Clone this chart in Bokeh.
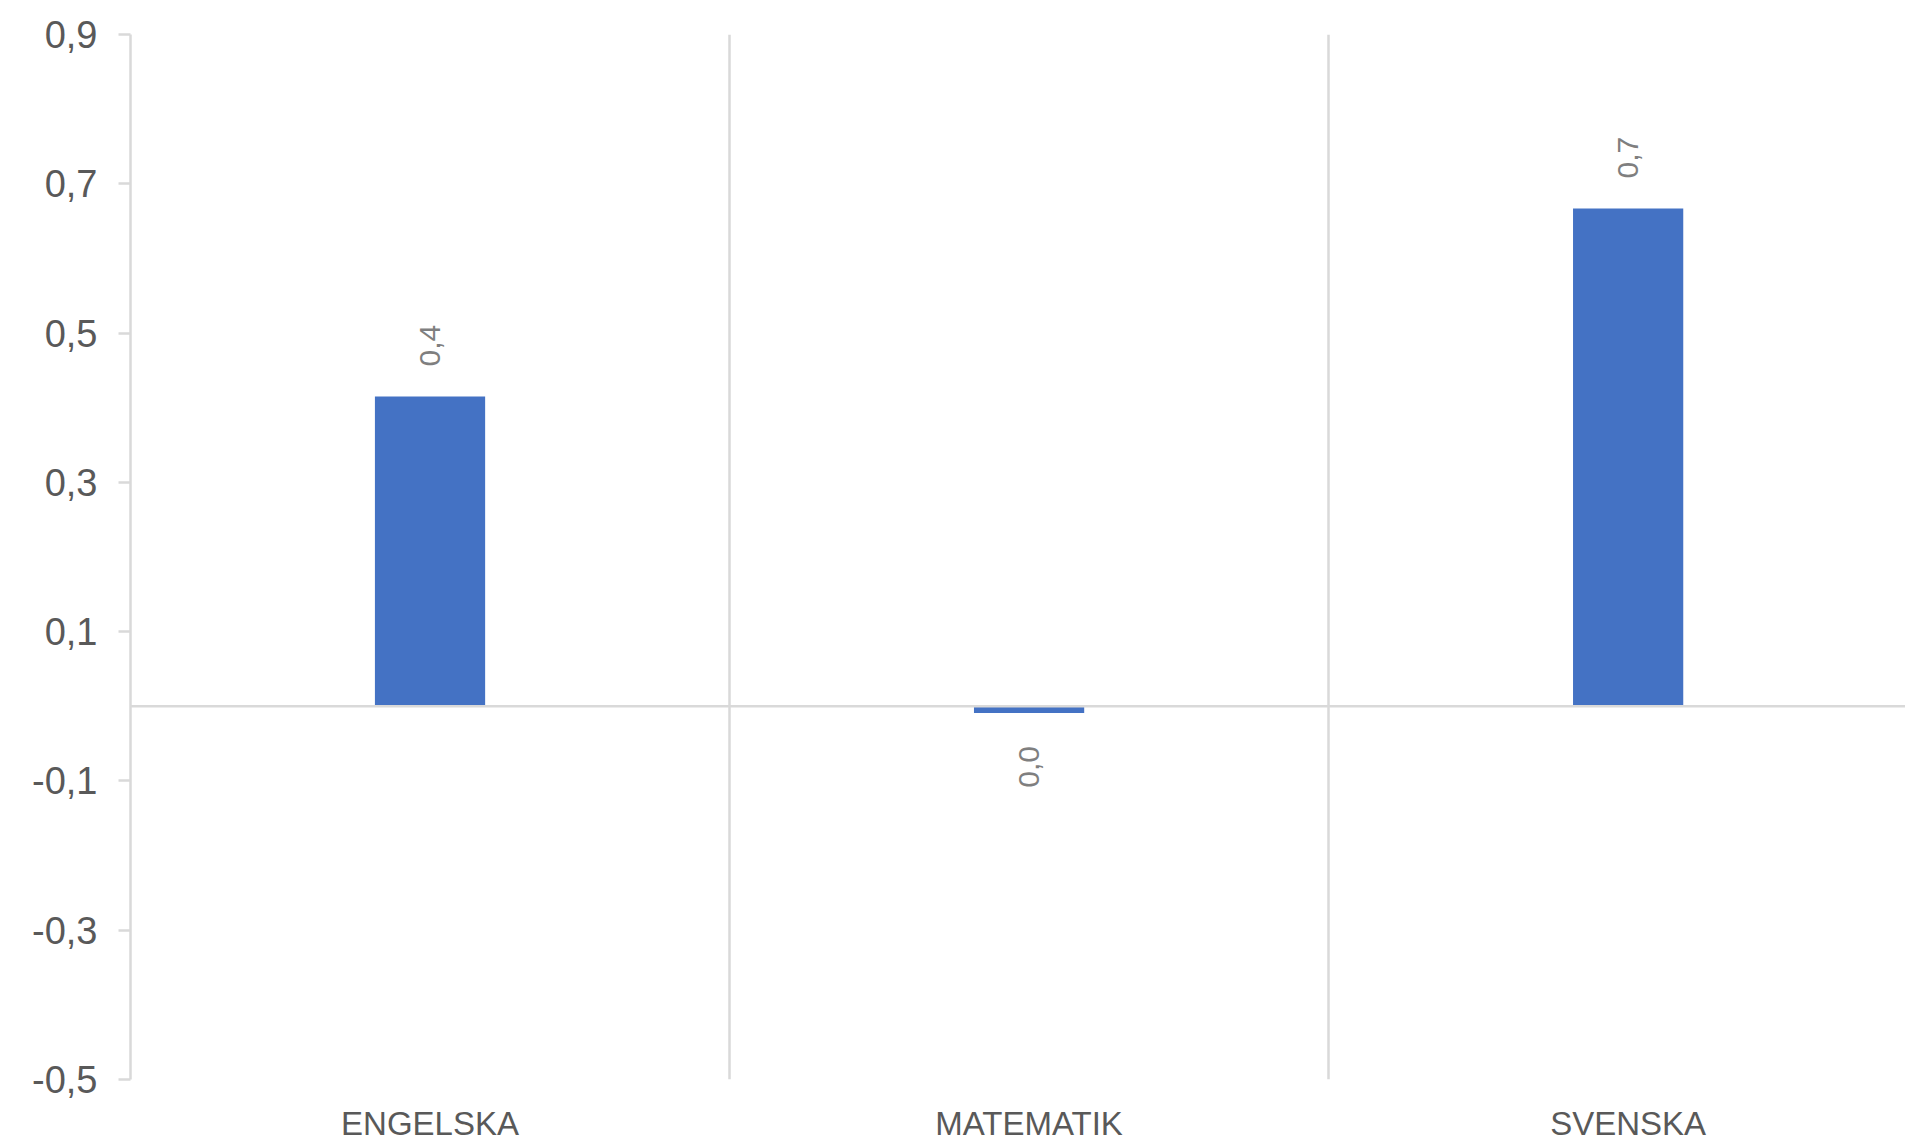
import math
from bokeh.plotting import figure
from bokeh.models import ColumnDataSource, Range1d, FixedTicker, Span
from bokeh.core.properties import value
from bokeh.embed import file_html
from bokeh.resources import INLINE

# ---- data ----
categories = ["ENGELSKA", "MATEMATIK", "SVENSKA"]
values = [0.415, -0.009, 0.667]
value_labels = ["0,4", "0,0", "0,7"]
y_ticks = [-0.5, -0.3, -0.1, 0.1, 0.3, 0.5, 0.7, 0.9]
y_tick_labels = ["-0,5", "-0,3", "-0,1", "0,1", "0,3", "0,5", "0,7", "0,9"]

GRID = "#d9d9d9"
TEXT = "#595959"
LABEL = "#7f7f7f"
BAR = "#4472C4"
FONT = "Liberation Sans"

xpos = [i + 0.5 for i in range(len(categories))]
pos_idx = [i for i, v in enumerate(values) if v >= 0]
neg_idx = [i for i, v in enumerate(values) if v < 0]

src = ColumnDataSource(dict(x=xpos, top=values, lab=value_labels))
src_pos = ColumnDataSource(dict(x=[xpos[i] for i in pos_idx],
                                y=[values[i] for i in pos_idx],
                                lab=[value_labels[i] for i in pos_idx]))
src_neg = ColumnDataSource(dict(x=[xpos[i] for i in neg_idx],
                                y=[values[i] for i in neg_idx],
                                lab=[value_labels[i] for i in neg_idx]))

p = figure(width=1905, height=1144, output_backend="svg", toolbar_location=None,
           x_range=Range1d(0, 2.963), y_range=Range1d(-0.5, 0.9))
p.min_border_left = 130
p.min_border_right = 0
p.min_border_top = 34
p.min_border_bottom = 64
p.outline_line_color = None
p.background_fill_color = "white"
p.border_fill_color = "white"

# grids
p.ygrid.grid_line_color = None
p.xgrid.ticker = FixedTicker(ticks=[1, 2])
p.xgrid.grid_line_color = GRID
p.xgrid.grid_line_width = 2.5

p.add_layout(Span(location=0, dimension="width", line_color=GRID, line_width=2.5))

# bars
p.vbar(x="x", top="top", bottom=0, width=0.184, source=src, fill_color=BAR, line_color=None)

# data labels (rotated)
p.text(x="x", y="y", text="lab", source=src_pos, angle=math.pi / 2,
       text_align="left", text_baseline="middle", y_offset=-30,
       text_font=value(FONT), text_font_size="30px", text_color=LABEL)
p.text(x="x", y="y", text="lab", source=src_neg, angle=math.pi / 2,
       text_align="right", text_baseline="middle", y_offset=33,
       text_font=value(FONT), text_font_size="30px", text_color=LABEL)

# x axis (category labels)
xa = p.xaxis[0]
xa.ticker = FixedTicker(ticks=xpos)
xa.major_label_overrides = {x: c for x, c in zip(xpos, categories)}
xa.axis_line_color = None
xa.major_tick_line_color = None
xa.minor_tick_line_color = None
xa.major_tick_out = 0
xa.major_tick_in = 0
xa.major_label_standoff = 25
xa.major_label_text_font = FONT
xa.major_label_text_font_size = "33px"
xa.major_label_text_color = TEXT

# y axis
ya = p.yaxis[0]
ya.ticker = FixedTicker(ticks=y_ticks)
ya.major_label_overrides = {t: l for t, l in zip(y_ticks, y_tick_labels)}
ya.axis_line_color = GRID
ya.axis_line_width = 2.5
ya.major_tick_line_color = GRID
ya.major_tick_line_width = 2.5
ya.major_tick_out = 12
ya.major_tick_in = 0
ya.minor_tick_line_color = None
ya.major_label_standoff = 21
ya.major_label_text_font = FONT
ya.major_label_text_font_size = "38px"
ya.major_label_text_color = TEXT

open("out.html", "w").write(file_html(p, INLINE))
